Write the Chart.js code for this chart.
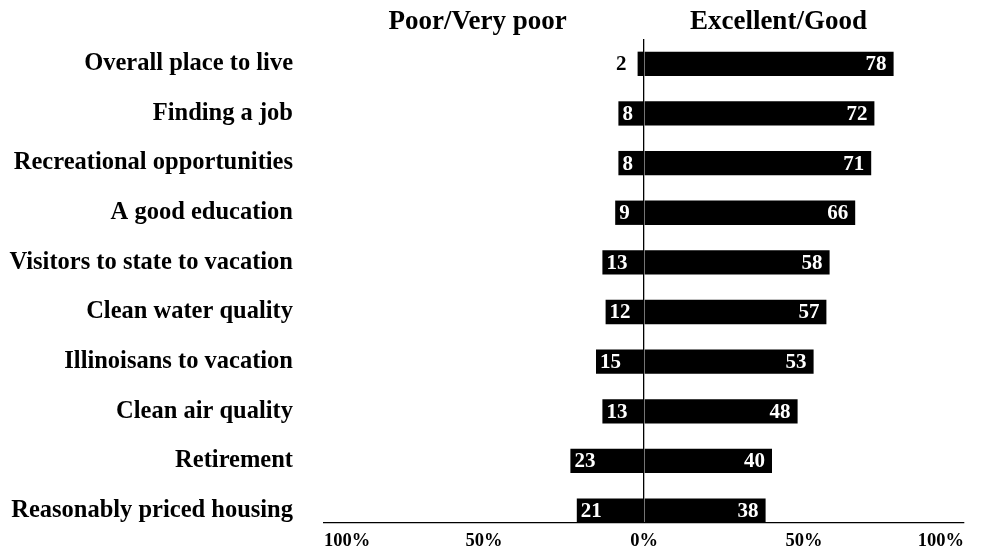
<!DOCTYPE html>
<html>
<head>
<meta charset="utf-8">
<script src="https://cdn.jsdelivr.net/npm/chart.js@4"></script>
<style>
  html, body { margin: 0; padding: 0; background: #fff; }
  #wrap { width: 985px; height: 552px; position: relative; }
</style>
</head>
<body>
<div id="wrap"><canvas id="chart"></canvas></div>
<script>
// Survey items, top to bottom
const categories = [
  'Overall place to live',
  'Finding a job',
  'Recreational opportunities',
  'A good education',
  'Visitors to state to vacation',
  'Clean water quality',
  'Illinoisans to vacation',
  'Clean air quality',
  'Retirement',
  'Reasonably priced housing'
];

// Percent rating each item poor / very poor
const poorValues = [2, 8, 8, 9, 13, 12, 15, 13, 23, 21];

// Percent rating each item excellent / good
const goodValues = [78, 72, 71, 66, 58, 57, 53, 48, 40, 38];

// Axis ticks (percent, poor side shown to the left of zero)
const axisTicks = [-100, -50, 0, 50, 100];

// Column headings over each side
const sideTitles = ['Poor/Very poor', 'Excellent/Good'];

const SERIF = '"Liberation Serif", "Times New Roman", serif';

// Poor side is plotted as negative values so it extends left of zero
const poorData = poorValues.map((v, i) => ({ x: -v, y: i }));
const goodData = goodValues.map((v, i) => ({ x: v, y: i }));

// Headings above the two halves
const headingsPlugin = {
  id: 'headings',
  afterDraw(chart) {
    const { ctx, scales } = chart;
    ctx.save();
    ctx.fillStyle = '#000';
    ctx.font = 'bold 27px ' + SERIF;
    ctx.textAlign = 'center';
    ctx.textBaseline = 'middle';
    ctx.fillText(sideTitles[0], scales.x.getPixelForValue(-52), 22);
    ctx.fillText(sideTitles[1], scales.x.getPixelForValue(42), 22);
    ctx.restore();
  }
};

// Numbers printed on the bars
const valueLabelsPlugin = {
  id: 'valueLabels',
  afterDatasetsDraw(chart) {
    const { ctx } = chart;
    ctx.save();
    ctx.font = 'bold 21px ' + SERIF;
    ctx.textBaseline = 'middle';
    chart.data.datasets.forEach((ds, di) => {
      const meta = chart.getDatasetMeta(di);
      meta.data.forEach((bar, i) => {
        const value = Math.abs(ds.data[i].x);
        const text = String(value);
        const w = ctx.measureText(text).width;
        const barW = Math.abs(bar.x - bar.base);
        const y = bar.y + 1;
        if (di === 0) {
          if (barW < w + 6) {
            // too short to hold its number: print it just outside
            ctx.fillStyle = '#000';
            ctx.textAlign = 'right';
            ctx.fillText(text, bar.x - 11, y);
          } else {
            ctx.fillStyle = '#fff';
            ctx.textAlign = 'left';
            ctx.fillText(text, bar.x + 4, y);
          }
        } else {
          ctx.fillStyle = '#fff';
          ctx.textAlign = 'right';
          ctx.fillText(text, bar.x - 7, y);
        }
      });
    });
    ctx.restore();
  }
};

new Chart(document.getElementById('chart'), {
  type: 'bar',
  data: {
    datasets: [
      {
        label: sideTitles[0],
        data: poorData,
        backgroundColor: '#000',
        borderWidth: 0,
        barPercentage: 0.49,
        categoryPercentage: 1
      },
      {
        label: sideTitles[1],
        data: goodData,
        backgroundColor: '#000',
        borderWidth: 0,
        barPercentage: 0.49,
        categoryPercentage: 1
      }
    ]
  },
  options: {
    indexAxis: 'y',
    responsive: true,
    maintainAspectRatio: false,
    animation: false,
    layout: { padding: { top: 39, right: 21, bottom: 0, left: 0 } },
    plugins: {
      legend: { display: false },
      tooltip: { enabled: false }
    },
    scales: {
      x: {
        type: 'linear',
        stacked: true,
        min: -100,
        max: 100,
        afterBuildTicks(scale) {
          scale.ticks = axisTicks.map(v => ({ value: v }));
        },
        afterFit(scale) { scale.height = 29; },
        grid: {
          drawTicks: false,
          lineWidth: 1.3,
          color: ctx => (ctx.tick && ctx.tick.value === 0 ? '#000' : 'rgba(0,0,0,0)')
        },
        border: { display: true, color: '#000', width: 1.3 },
        ticks: {
          align: 'inner',
          padding: 7,
          color: '#000',
          font: { family: SERIF, size: 18.5, weight: 'bold' },
          callback: v => Math.abs(v) + '%'
        }
      },
      y: {
        type: 'linear',
        stacked: true,
        reverse: true,
        offset: false,
        min: -0.5,
        max: 9.25,
        afterFit(scale) {
          scale.width = 324;
          scale.paddingTop = 0;
          scale.paddingBottom = 0;
        },
        grid: { display: false, drawTicks: false, offset: false },
        border: { display: false },
        ticks: {
          stepSize: 1,
          includeBounds: false,
          autoSkip: false,
          padding: 31,
          color: '#000',
          font: { family: SERIF, size: 24.5, weight: 'bold' },
          callback: v => (Number.isInteger(v) && categories[v] !== undefined ? categories[v] : '')
        }
      }
    }
  },
  plugins: [headingsPlugin, valueLabelsPlugin]
});
</script>
</body>
</html>
